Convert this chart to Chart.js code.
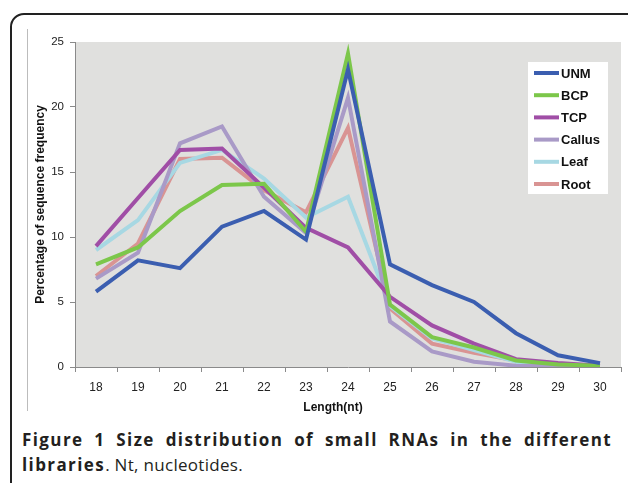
<!DOCTYPE html>
<html>
<head>
<meta charset="utf-8">
<script src="https://cdn.jsdelivr.net/npm/chart.js@4.4.0/dist/chart.umd.min.js"></script>
<style>
  body { margin: 0; background: #fff; }
  #page { position: relative; width: 628px; height: 483px; overflow: hidden; background: #fff; }
  #frame { position: absolute; left: 10px; top: 13px; width: 660px; height: 520px;
           border: 2px solid #222; border-radius: 14px; box-sizing: border-box; }
  #chartline { position: absolute; left: 27px; top: 29px; width: 1px; height: 382px; background: #bcbcbc; }
  #wrap { position: absolute; left: 0; top: 0; width: 628px; height: 420px; }
  #caption { position: absolute; left: 22px; top: 427px; width: 590px; color: #231f20;
             font-family: "Open Sans", sans-serif; font-size: 17px; line-height: 25px; letter-spacing: 0.3px; }
  #caption b { letter-spacing: 1.4px; }
  #caption .l1 { font-weight: bold; letter-spacing: 1.4px; text-align: justify; text-align-last: justify; white-space: nowrap; }
</style>
</head>
<body>
<div id="page">
  <div id="frame"></div>
  <div id="chartline"></div>
  <div id="wrap"><canvas id="line"></canvas></div>
  <div id="caption">
    <div class="l1">Figure 1 Size distribution of small RNAs in the different</div>
    <div><b>libraries</b>. Nt, nucleotides.</div>
  </div>
</div>
<script>
var lengths = ['18', '19', '20', '21', '22', '23', '24', '25', '26', '27', '28', '29', '30'];
var yTicks = [0, 5, 10, 15, 20, 25];
var xTitle = 'Length(nt)';

var unm    = [5.8, 8.2, 7.6, 10.8, 12.0, 9.8, 22.9, 7.9, 6.3, 5.0, 2.6, 0.9, 0.3];
var bcp    = [7.9, 9.2, 12.0, 14.0, 14.1, 10.4, 24.1, 4.8, 2.3, 1.5, 0.5, 0.2, 0.1];
var tcp    = [9.3, 13.0, 16.7, 16.8, 13.8, 10.7, 9.2, 5.4, 3.2, 1.8, 0.6, 0.3, 0.1];
var callus = [6.8, 8.8, 17.2, 18.5, 13.1, 10.3, 20.7, 3.5, 1.2, 0.4, 0.1, 0.05, 0.0];
var leaf   = [9.0, 11.3, 15.7, 16.7, 14.5, 11.5, 13.1, 4.7, 2.2, 1.3, 0.4, 0.1, 0.05];
var root   = [7.0, 9.5, 16.0, 16.1, 13.6, 11.9, 18.4, 4.5, 1.8, 1.1, 0.5, 0.2, 0.1];

var names  = ['UNM', 'BCP', 'TCP', 'Callus', 'Leaf', 'Root'];
var series = [unm, bcp, tcp, callus, leaf, root];
var colors = ['#3b5eb0', '#7cc74a', '#a04ea6', '#a99ac7', '#a7d8e3', '#d99493'];

var datasets = [];
for (var i = 0; i < series.length; i++) {
  datasets.push({
    label: names[i],
    data: series[i],
    borderColor: colors[i],
    backgroundColor: colors[i],
    borderWidth: 4,
    pointRadius: 0,
    tension: 0,
    fill: false,
    order: i
  });
}

var plotBg = {
  id: 'plotBg',
  beforeDraw: function(chart) {
    var a = chart.chartArea;
    var ctx = chart.ctx;
    ctx.save();
    ctx.fillStyle = '#e0e0de';
    ctx.fillRect(a.left, a.top, a.right - a.left, a.bottom - a.top);
    ctx.restore();
  }
};

// excel style legend box + x axis title (sits a bit left of center in the original)
var boxLegend = {
  id: 'boxLegend',
  afterDraw: function(chart) {
    var ctx = chart.ctx;
    var x = 528, y = 62, w = 80, h = 132;
    ctx.save();
    ctx.fillStyle = '#ffffff';
    ctx.fillRect(x, y, w, h);
    ctx.font = 'bold 13px "Liberation Sans", Arial, sans-serif';
    ctx.textBaseline = 'middle';
    chart.data.datasets.forEach(function(ds, k) {
      var cy = 73 + k * 22.2;
      ctx.strokeStyle = ds.borderColor;
      ctx.lineWidth = 4;
      ctx.beginPath();
      ctx.moveTo(534, cy);
      ctx.lineTo(559, cy);
      ctx.stroke();
      ctx.fillStyle = '#111';
      ctx.fillText(ds.label, 561, cy + 1);
    });

    ctx.font = 'bold 12px "Liberation Sans", Arial, sans-serif';
    ctx.textAlign = 'center';
    ctx.fillText(xTitle, 333, 408);
    ctx.restore();
  }
};

var ctx = document.getElementById('line').getContext('2d');
var chart = new Chart(ctx, {
  type: 'line',
  data: {
    labels: lengths,
    datasets: datasets
  },
  options: {
    responsive: true,
    maintainAspectRatio: false,
    animation: false,
    layout: { padding: { left: 33, right: 7, top: 42, bottom: 0 } },
    plugins: {
      legend: { display: false },
      tooltip: { enabled: false }
    },
    scales: {
      x: {
        offset: true,
        afterFit: function(scale) { scale.height = 53; },
        grid: { offset: true, drawOnChartArea: false, drawTicks: true, tickLength: 5, color: '#8a8a8a' },
        border: { display: true, color: '#8a8a8a', width: 1 },
        ticks: { color: '#222', padding: 8, font: { family: '"Liberation Sans", Arial', size: 12 } }
      },
      y: {
        min: 0,
        max: 25,
        afterFit: function(scale) { scale.width = 42; },
        afterBuildTicks: function(scale) {
          scale.ticks = yTicks.map(function(v) { return { value: v }; });
        },
        grid: { drawOnChartArea: false, drawTicks: true, tickLength: 5, color: '#8a8a8a' },
        border: { display: true, color: '#8a8a8a', width: 1 },
        ticks: { color: '#222', padding: 6, font: { family: '"Liberation Sans", Arial', size: 11.5 } },
        title: {
          display: true, text: 'Percentage of sequence frequency', color: '#111', padding: 0,
          font: { family: '"Liberation Sans", Arial', size: 12, weight: 'bold' }
        }
      }
    }
  },
  plugins: [plotBg, boxLegend]
});
</script>
</body>
</html>
